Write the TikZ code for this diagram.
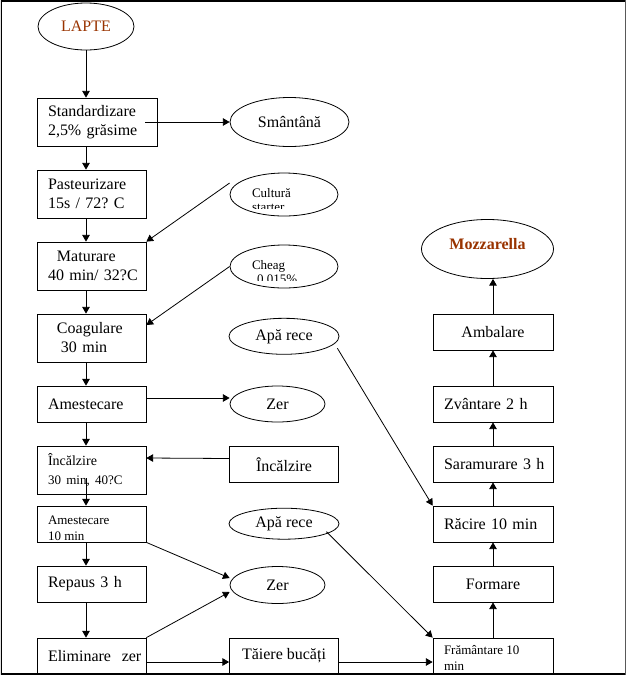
\documentclass[tikz,border=0pt]{standalone}
\usepackage{fontspec}
\setmainfont{Liberation Serif}
\usetikzlibrary{shapes.geometric,positioning}
\usetikzlibrary{arrows}
\definecolor{brickbrown}{HTML}{993300}

\begin{document}
\begin{tikzpicture}[x=1pt,y=-1pt,>=triangle 60,line width=0.8pt,node distance=72pt,on grid,
	font=\fontsize{16}{19}\selectfont,
	box/.style={draw,rectangle,minimum width=109pt,minimum height=36pt,inner sep=0pt},
	tall/.style={box,minimum height=48pt},
	rbox/.style={box,minimum width=120pt},
	lft/.style={align=left,text width=#1},lft/.default=87pt,
	oval/.style 2 args={draw,ellipse,inner sep=0pt,minimum width=#1,minimum height=#2},
	small/.style={font=\fontsize{13}{16}\selectfont},
	inset/.style={small,align=left,inner sep=0pt,anchor=north west}]
	\useasboundingbox (0,0) rectangle (627,678);
	\clip (0.75,0.75) rectangle (625.5,674);

	% main line
	\node[oval={96pt}{47pt},text=brickbrown] (lapte) at (86,26.5) {LAPTE};
	\node[tall,lft=98pt,minimum width=120pt] (std) at (97,122) {Standardizare\\2,5\%~grăsime};
	\node[tall,lft] (past) at (91.5,194) {Pasteurizare\\15s~/~72?~C};
	\node[tall,lft,below=of past] (mat) {\hspace*{9pt}Maturare\\40~min/~32?C};
	\node[tall,lft,below=of mat] (coag) {\hspace*{9pt}Coagulare\\\hspace*{13pt}30~min};
	\node[box,lft,below=66pt of coag] (ames) {Amestecare};
	\node[tall,lft,below=66pt of ames] (incl) {\fontsize{14}{17}\selectfont Încălzire\\\fontsize{13}{17}\selectfont 30~min,~40?C};
	\node[box,below=54pt of incl] (ames10) {};
	\begin{scope}
		\clip (ames10.north west) rectangle (ames10.south east);
		\node[inset] (ames10-txt) at ([shift={(11pt,-10pt)}]ames10.north west) {Amestecare\\10~min};
	\end{scope}
	\node[box,lft,below=60pt of ames10] (rep) {Repaus~3~h};
	\node[box,lft,below=of rep] (elim) {Eliminare~~zer};

	% side inputs and outputs
	\node[oval={119pt}{49pt}] (sman) at (289.5,122) {Smântână};
	\node[oval={108pt}{43pt}] (cult) at (284,194.5) {};
	\begin{scope}
		\clip (cult.north -| cult.west) rectangle ([yshift=8pt]cult.south -| cult.east);
		\node[inset] (cult-txt) at ([shift={(22pt,-15.5pt)}]cult.north -| cult.west) {Cultură\\[-2pt]starter};
	\end{scope}
	\node[oval={108pt}{43pt}] (cheag) at (284,266.5) {};
	\begin{scope}
		\clip (cheag.north -| cheag.west) rectangle ([yshift=8pt]cheag.south -| cheag.east);
		\node[inset] (cheag-txt) at ([shift={(22pt,-15pt)}]cheag.north -| cheag.west) {Cheag\\[-2pt]\hspace*{5pt}0,015\%};
	\end{scope}
	\node[oval={110pt}{36pt}] (apa1) at (284,336.3) {Apă rece};
	\node[oval={95pt}{36pt}] (zer1) at (277.5,404) {Zer};
	\node[box] (incr) at (284,464.5) {Încălzire};
	\node[oval={110pt}{31pt}] (apa2) at (284,523.7) {Apă rece};
	\node[oval={95pt}{37pt}] (zer2) at (277.5,585) {Zer};
	\node[box] (taie) at (284,656) {Tăiere bucăți};

	% second line
	\node[rbox] (fram) at (493,656) {};
	\node[inset] (fram-txt) at ([shift={(11pt,-7.5pt)}]fram.north west) {Frământare~10\\min};
	\node[rbox,above=of fram] (form) {Formare};
	\node[rbox,lft=98pt,above=60pt of form] (racire) {Răcire~10~min};
	\node[rbox,lft=98pt,above=60pt of racire] (sara) {Saramurare~3~h};
	\node[rbox,lft=98pt,above=60pt of sara] (zvan) {Zvântare~2~h};
	\node[rbox,above=of zvan] (amb) {Ambalare};
	\node[oval={132pt}{59pt},text=brickbrown,text height=0pt,text depth=0pt] (mozz) at (487.5,249) {\bfseries Mozzarella};

	\path[->]
	(lapte) edge (lapte |- std.north)
	(lapte |- std.south) edge (lapte |- past.north)
	(lapte |- past.south) edge (lapte |- mat.north)
	(lapte |- mat.south) edge (lapte |- coag.north)
	(lapte |- coag.south) edge (lapte |- ames.north)
	(lapte |- ames.south) edge (lapte |- incl.north)
	([yshift=16pt]lapte |- incl.south) edge (lapte |- ames10.north)
	(lapte |- ames10.south) edge (lapte |- rep.north)
	(lapte |- rep.south) edge (lapte |- elim.north)
	([xshift=-12pt]std.east) edge (sman)
	([yshift=11.5pt]cult.west) edge (mat.north east)
	(cheag.west) edge ([yshift=13pt]coag.east)
	([yshift=6pt]ames.east) edge ([yshift=6pt]zer1.west)
	([yshift=6pt]incr.west) edge ([yshift=12pt]incl.east)
	(ames10.south east) edge ([yshift=7pt]zer2.west)
	(elim.north east) edge ([yshift=-7pt]zer2.west)
	([yshift=-6pt]elim.east) edge ([yshift=-6pt]taie.west)
	([yshift=-6pt]taie.east) edge ([yshift=-6pt]fram.west)
	([shift={(-2pt,-12pt)}]apa1.east) edge (racire.north west)
	([shift={(-13pt,-8pt)}]apa2.east) edge (fram.north west);
	\path[->]
	(fram) edge (form)
	(form) edge (racire)
	(racire) edge (sara)
	(sara) edge (zvan)
	(zvan) edge (amb)
	(amb) edge (amb |- mozz.south);

	\draw[line width=1.5pt] (0.75,0.75) rectangle (625.5,674);
\end{tikzpicture}
\end{document}
